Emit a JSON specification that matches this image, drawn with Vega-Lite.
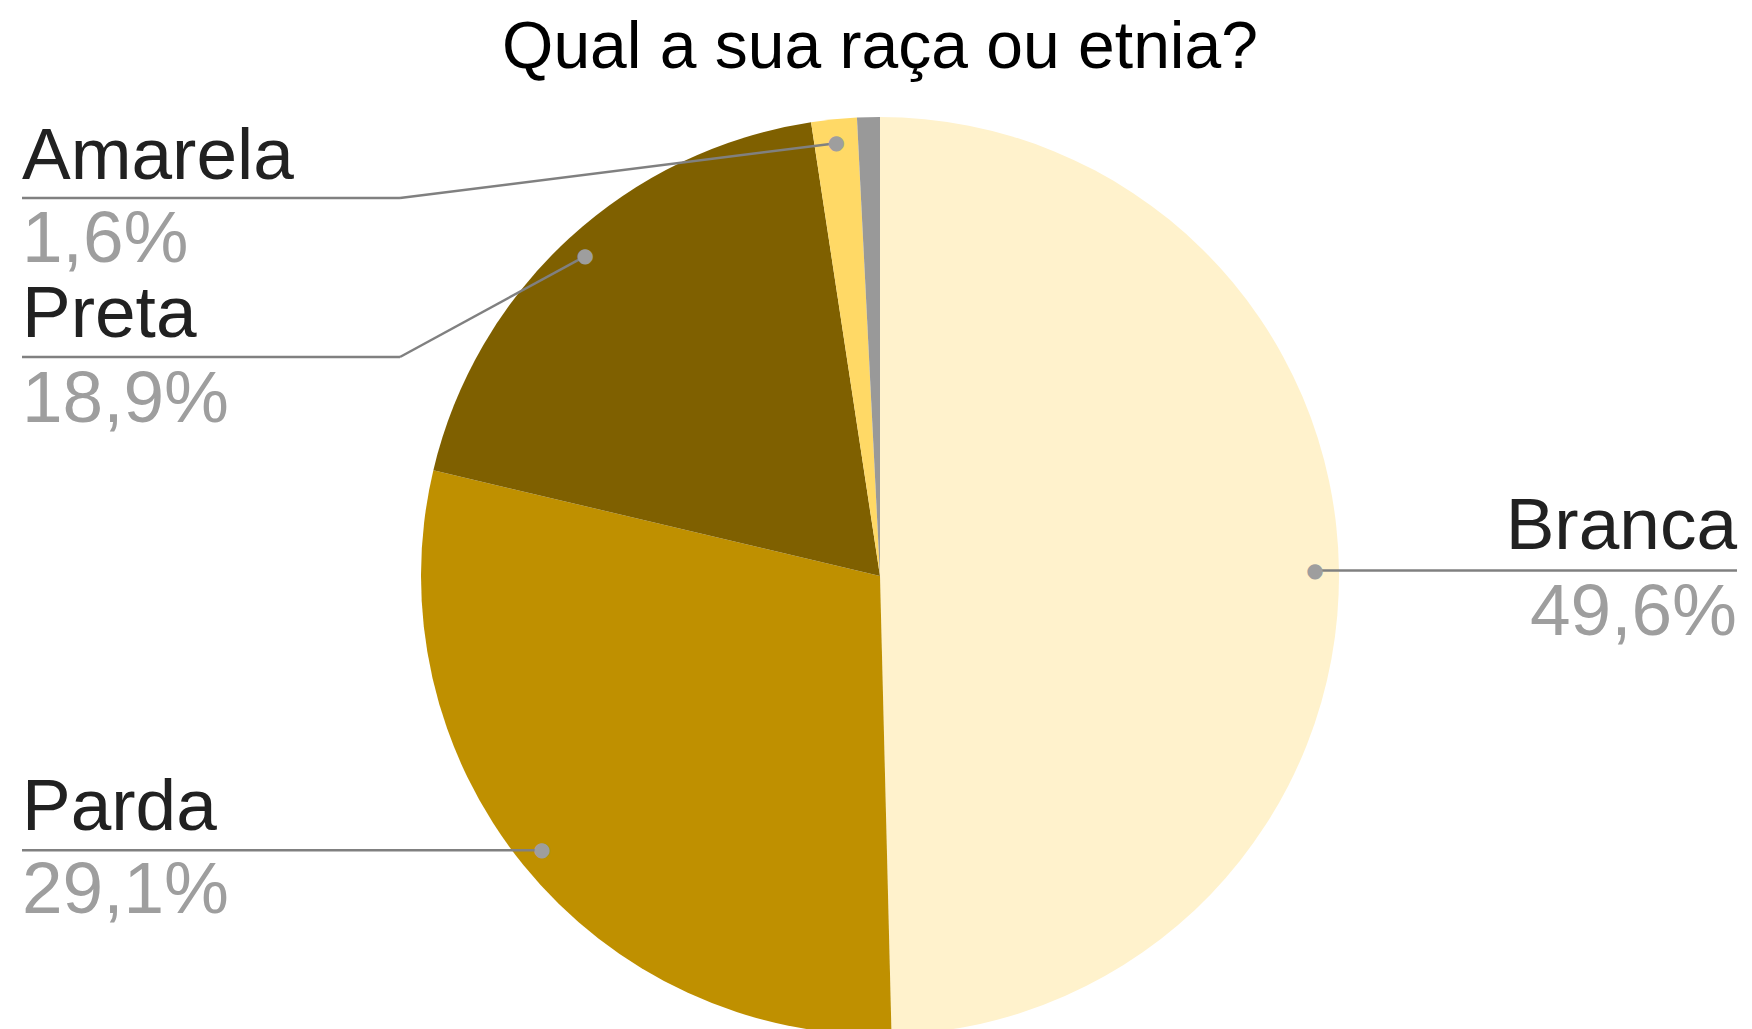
{
  "$schema": "https://vega.github.io/schema/vega-lite/v6.json",
  "width": 1744,
  "height": 912,
  "autosize": {"type": "none"},
  "padding": {"left": 8, "top": 120, "right": 0, "bottom": 0},
  "background": "white",
  "config": {
    "view": {"stroke": null},
    "font": "Liberation Sans",
    "locale": {"number": {"decimal": ",", "thousands": ".", "grouping": [3], "currency": ["R$", ""]}}
  },
  "data": {
    "values": [
      {"raca": "Branca", "share": 0.496, "ordem": 1},
      {"raca": "Parda", "share": 0.291, "ordem": 2},
      {"raca": "Preta", "share": 0.189, "ordem": 3},
      {"raca": "Amarela", "share": 0.016, "ordem": 4},
      {"raca": "Outra", "share": 0.008, "ordem": 5}
    ]
  },
  "layer": [
    {
      "mark": {"type": "arc", "radius": 459},
      "encoding": {
        "theta": {"field": "share", "type": "quantitative", "stack": true},
        "order": {"field": "ordem", "type": "quantitative"},
        "color": {
          "field": "raca",
          "type": "nominal",
          "scale": {
            "domain": ["Branca", "Parda", "Preta", "Amarela", "Outra"],
            "range": ["#fff2cc", "#bf9000", "#7f6000", "#ffd966", "#999999"]
          },
          "legend": null
        }
      }
    },
    {
      "transform": [{"filter": "datum.raca == 'Amarela'"}],
      "mark": {"type": "rule", "color": "#808080", "strokeWidth": 2.5},
      "encoding": {
        "x": {"datum": -186.95, "type": "quantitative", "scale": {"domain": [-190, 190], "nice": false, "zero": false}, "axis": null},
        "y": {"datum": 82.36, "type": "quantitative", "scale": {"domain": [-99.35, 99.35], "nice": false, "zero": false}, "axis": null},
        "x2": {"datum": -104.59},
        "y2": {"datum": 82.36}
      }
    },
    {
      "transform": [{"filter": "datum.raca == 'Amarela'"}],
      "mark": {"type": "rule", "color": "#808080", "strokeWidth": 2.5},
      "encoding": {
        "x": {"datum": -104.59, "type": "quantitative"},
        "y": {"datum": 82.36, "type": "quantitative"},
        "x2": {"datum": -9.52},
        "y2": {"datum": 94.3}
      }
    },
    {
      "transform": [{"filter": "datum.raca == 'Preta'"}],
      "mark": {"type": "rule", "color": "#808080", "strokeWidth": 2.5},
      "encoding": {
        "x": {"datum": -186.95, "type": "quantitative"},
        "y": {"datum": 47.72, "type": "quantitative"},
        "x2": {"datum": -104.59},
        "y2": {"datum": 47.72}
      }
    },
    {
      "transform": [{"filter": "datum.raca == 'Preta'"}],
      "mark": {"type": "rule", "color": "#808080", "strokeWidth": 2.5},
      "encoding": {
        "x": {"datum": -104.59, "type": "quantitative"},
        "y": {"datum": 47.72, "type": "quantitative"},
        "x2": {"datum": -64.21},
        "y2": {"datum": 69.7}
      }
    },
    {
      "transform": [{"filter": "datum.raca == 'Parda'"}],
      "mark": {"type": "rule", "color": "#808080", "strokeWidth": 2.5},
      "encoding": {
        "x": {"datum": -186.95, "type": "quantitative"},
        "y": {"datum": -59.75, "type": "quantitative"},
        "x2": {"datum": -73.6},
        "y2": {"datum": -59.75}
      }
    },
    {
      "transform": [{"filter": "datum.raca == 'Branca'"}],
      "mark": {"type": "rule", "color": "#808080", "strokeWidth": 2.5},
      "encoding": {
        "x": {"datum": 94.78, "type": "quantitative"},
        "y": {"datum": 1.19, "type": "quantitative"},
        "x2": {"datum": 186.73},
        "y2": {"datum": 1.19}
      }
    },
    {
      "transform": [{"filter": "datum.ordem <= 4"}],
      "mark": {"type": "text", "radius": 435, "font": "DejaVu Sans", "fontSize": 20, "color": "#9e9e9e", "align": "center", "baseline": "middle"},
      "encoding": {
        "theta": {"field": "share", "type": "quantitative", "stack": true},
        "order": {"field": "ordem", "type": "quantitative"},
        "text": {"value": "●"}
      }
    },
    {
      "transform": [{"filter": "datum.raca == 'Branca'"}],
      "mark": {"type": "text", "align": "center", "baseline": "alphabetic", "fontSize": 66, "color": "#000000"},
      "encoding": {
        "x": {"datum": 0, "type": "quantitative"},
        "y": {"datum": 110.69, "type": "quantitative"},
        "text": {"value": "Qual a sua raça ou etnia?"}
      }
    },
    {
      "transform": [{"filter": "datum.raca == 'Amarela'"}],
      "mark": {"type": "text", "align": "left", "baseline": "alphabetic", "fontSize": 73, "color": "#212121"},
      "encoding": {
        "x": {"datum": -186.95, "type": "quantitative"},
        "y": {"datum": 86.5, "type": "quantitative"},
        "text": {"field": "raca"}
      }
    },
    {
      "transform": [{"filter": "datum.raca == 'Amarela'"}],
      "mark": {"type": "text", "align": "left", "baseline": "alphabetic", "fontSize": 73, "color": "#9e9e9e"},
      "encoding": {
        "x": {"datum": -186.95, "type": "quantitative"},
        "y": {"datum": 68.42, "type": "quantitative"},
        "text": {"field": "share", "type": "quantitative", "format": ".1%"}
      }
    },
    {
      "transform": [{"filter": "datum.raca == 'Preta'"}],
      "mark": {"type": "text", "align": "left", "baseline": "alphabetic", "fontSize": 73, "color": "#212121"},
      "encoding": {
        "x": {"datum": -186.95, "type": "quantitative"},
        "y": {"datum": 52.08, "type": "quantitative"},
        "text": {"field": "raca"}
      }
    },
    {
      "transform": [{"filter": "datum.raca == 'Preta'"}],
      "mark": {"type": "text", "align": "left", "baseline": "alphabetic", "fontSize": 73, "color": "#9e9e9e"},
      "encoding": {
        "x": {"datum": -186.95, "type": "quantitative"},
        "y": {"datum": 33.55, "type": "quantitative"},
        "text": {"field": "share", "type": "quantitative", "format": ".1%"}
      }
    },
    {
      "transform": [{"filter": "datum.raca == 'Parda'"}],
      "mark": {"type": "text", "align": "left", "baseline": "alphabetic", "fontSize": 73, "color": "#212121"},
      "encoding": {
        "x": {"datum": -186.95, "type": "quantitative"},
        "y": {"datum": -55.34, "type": "quantitative"},
        "text": {"field": "raca"}
      }
    },
    {
      "transform": [{"filter": "datum.raca == 'Parda'"}],
      "mark": {"type": "text", "align": "left", "baseline": "alphabetic", "fontSize": 73, "color": "#9e9e9e"},
      "encoding": {
        "x": {"datum": -186.95, "type": "quantitative"},
        "y": {"datum": -73.43, "type": "quantitative"},
        "text": {"field": "share", "type": "quantitative", "format": ".1%"}
      }
    },
    {
      "transform": [{"filter": "datum.raca == 'Branca'"}],
      "mark": {"type": "text", "align": "right", "baseline": "alphabetic", "fontSize": 73, "color": "#212121"},
      "encoding": {
        "x": {"datum": 186.73, "type": "quantitative"},
        "y": {"datum": 5.88, "type": "quantitative"},
        "text": {"field": "raca"}
      }
    },
    {
      "transform": [{"filter": "datum.raca == 'Branca'"}],
      "mark": {"type": "text", "align": "right", "baseline": "alphabetic", "fontSize": 73, "color": "#9e9e9e"},
      "encoding": {
        "x": {"datum": 186.73, "type": "quantitative"},
        "y": {"datum": -12.86, "type": "quantitative"},
        "text": {"field": "share", "type": "quantitative", "format": ".1%"}
      }
    }
  ]
}
